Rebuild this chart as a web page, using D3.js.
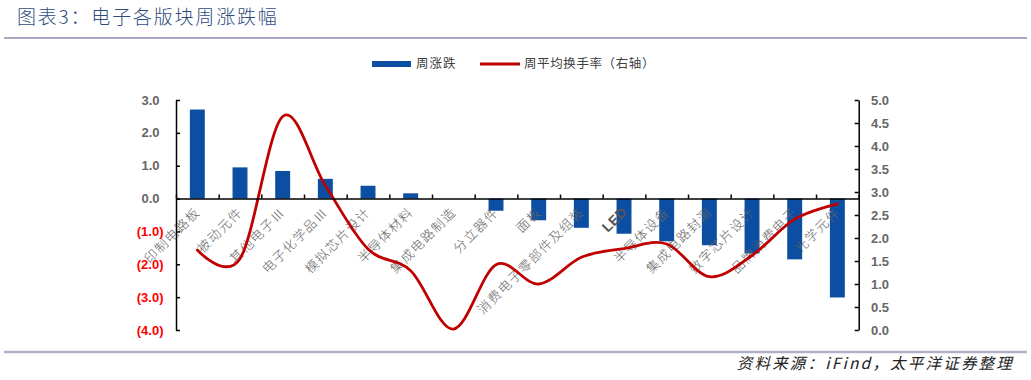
<!DOCTYPE html>
<html><head><meta charset="utf-8">
<script src="https://cdn.jsdelivr.net/npm/d3@7"></script>
<style>
html,body{margin:0;padding:0;background:#fff;}
svg{display:block;}
</style></head>
<body>
<svg id="chart" width="1031" height="380"></svg>
<script>
const categories = ["印制电路板","被动元件","其他电子Ⅲ","电子化学品Ⅲ","模拟芯片设计","半导体材料","集成电路制造","分立器件","面板","消费电子零部件及组装","LED","半导体设备","集成电路封测","数字芯片设计","品牌消费电子","光学元件"];
const weeklyChange = [2.71,0.95,0.84,0.60,0.39,0.16,0.00,-0.37,-0.66,-0.89,-1.07,-1.30,-1.42,-1.67,-1.85,-3.01];
const turnover = [1.74,1.55,4.64,3.14,1.76,1.29,0.02,1.42,1.00,1.58,1.77,1.87,1.16,1.62,2.41,2.74];
const leftTicks = [3,2,1,0,-1,-2,-3,-4];
const rightTicks = [0,0.5,1,1.5,2,2.5,3,3.5,4,4.5,5];
const seriesNames = ["周涨跌","周平均换手率（右轴）"];

const svg = d3.select("#chart");
const plotL = 176, plotR = 858.7, plotT = 100, plotB = 330;
const cjk = "'Noto Sans CJK SC','Noto Sans',sans-serif";
const latin = "'Liberation Sans',Arial,sans-serif";

// title and rules
svg.append("text").attr("x", 17).attr("y", 24)
  .attr("font-family", cjk).attr("font-size", 19).attr("font-weight", 300)
  .attr("letter-spacing", 1.8).attr("fill", "#2E4D7E").text("图表3：电子各版块周涨跌幅");
svg.append("line").attr("x1", 4).attr("x2", 1027).attr("y1", 38).attr("y2", 38)
  .attr("stroke", "#A8A8C4").attr("stroke-width", 2);
svg.append("line").attr("x1", 4).attr("x2", 1027).attr("y1", 352).attr("y2", 352)
  .attr("stroke", "#B0B0C8").attr("stroke-width", 2.5);
svg.append("text").attr("x", 1014).attr("y", 369).attr("text-anchor", "end")
  .attr("font-family", cjk).attr("font-size", 15.5).attr("font-style", "italic")
  .attr("letter-spacing", 2.2).attr("fill", "#222").text("资料来源：iFind，太平洋证券整理");

// scales
const x = d3.scaleBand().domain(categories).range([plotL, plotR]).paddingInner(0).paddingOuter(0);
const yL = d3.scaleLinear().domain([-4, 3]).range([plotB, plotT]);
const yR = d3.scaleLinear().domain([0, 5]).range([plotB, plotT]);
const barW = x.bandwidth() * 0.35;

// bars
svg.append("g").selectAll("rect").data(categories).join("rect")
  .attr("x", d => x(d) + x.bandwidth() / 2 - barW / 2)
  .attr("width", barW)
  .attr("y", (d, i) => yL(Math.max(0, weeklyChange[i])))
  .attr("height", (d, i) => Math.abs(yL(weeklyChange[i]) - yL(0)))
  .attr("fill", "#0C4EA2");

// x labels
svg.append("g").selectAll("text").data(categories).join("text")
  .attr("transform", d => `translate(${x(d) + x.bandwidth() / 2 + 1},${yL(0) + 12}) rotate(-45)`)
  .attr("text-anchor", "end").attr("dominant-baseline", "middle")
  .attr("font-family", d => d === "LED" ? latin : cjk)
  .attr("font-weight", d => d === "LED" ? "bold" : 300)
  .attr("font-size", d => d === "LED" ? 14 : 13)
  .attr("letter-spacing", d => d === "LED" ? 0 : 1.4)
  .attr("fill", d => d === "LED" ? "#555" : "#666")
  .text(d => d);

// line
const line = d3.line()
  .x((d, i) => x(categories[i]) + x.bandwidth() / 2)
  .y(d => yR(d))
  .curve(d3.curveCardinal.tension(0));
svg.append("path").datum(turnover).attr("d", line)
  .attr("fill", "none").attr("stroke", "#C00000").attr("stroke-width", 2.8)
  .attr("stroke-linecap", "round");

// axes
const axisL = svg.append("g").attr("transform", `translate(${plotL},0)`)
  .call(d3.axisLeft(yL).tickValues(leftTicks).tickSizeInner(-4).tickSizeOuter(0).tickFormat(""));
const axisR = svg.append("g").attr("transform", `translate(${plotR},0)`)
  .call(d3.axisRight(yR).tickValues(rightTicks).tickSizeInner(-4).tickSizeOuter(0).tickFormat(""));
[axisL, axisR].forEach(g => {
  g.select(".domain").attr("stroke", "#000").attr("stroke-width", 1.5);
  g.selectAll(".tick line").attr("stroke", "#000").attr("stroke-width", 1.5);
});
// zero line with category ticks
const bounds = categories.map(c => x(c)).concat([plotR]);
const axisX = svg.append("g").attr("transform", `translate(0,${yL(0)})`)
  .call(d3.axisBottom(d3.scaleLinear().domain([plotL, plotR]).range([plotL, plotR]))
    .tickValues(bounds).tickSizeInner(-4).tickSizeOuter(0).tickFormat(""));
axisX.select(".domain").attr("stroke", "#000").attr("stroke-width", 1.5);
axisX.selectAll(".tick line").attr("stroke", "#000").attr("stroke-width", 1.5);

// left tick labels
svg.append("g").selectAll("text").data(leftTicks).join("text")
  .attr("x", d => d < 0 ? 163.5 : 159.5).attr("y", d => yL(d))
  .attr("dy", "0.35em").attr("text-anchor", "end")
  .attr("font-family", latin).attr("font-weight", "bold").attr("font-size", 13)
  .attr("fill", d => d < 0 ? "#FF0000" : "#666")
  .text(d => d < 0 ? `(${d3.format(".1f")(-d)})` : d3.format(".1f")(d));
// right tick labels
svg.append("g").selectAll("text").data(rightTicks).join("text")
  .attr("x", 871).attr("y", d => yR(d)).attr("dy", "0.35em")
  .attr("font-family", latin).attr("font-weight", "bold").attr("font-size", 13)
  .attr("fill", "#666").text(d => d3.format(".1f")(d));

// legend
const lg = svg.append("g");
lg.append("rect").attr("x", 372).attr("y", 61).attr("width", 39).attr("height", 6).attr("fill", "#0C4EA2");
lg.append("text").attr("x", 416).attr("y", 64).attr("dy", "0.35em")
  .attr("font-family", cjk).attr("font-size", 12.5).attr("letter-spacing", 1).attr("fill", "#404040").text(seriesNames[0]);
lg.append("line").attr("x1", 480).attr("x2", 520).attr("y1", 64).attr("y2", 64)
  .attr("stroke", "#C00000").attr("stroke-width", 2.8);
lg.append("text").attr("x", 524).attr("y", 64).attr("dy", "0.35em")
  .attr("font-family", cjk).attr("font-size", 12.5).attr("letter-spacing", 0.6).attr("fill", "#404040").text(seriesNames[1]);
</script>
</body></html>
